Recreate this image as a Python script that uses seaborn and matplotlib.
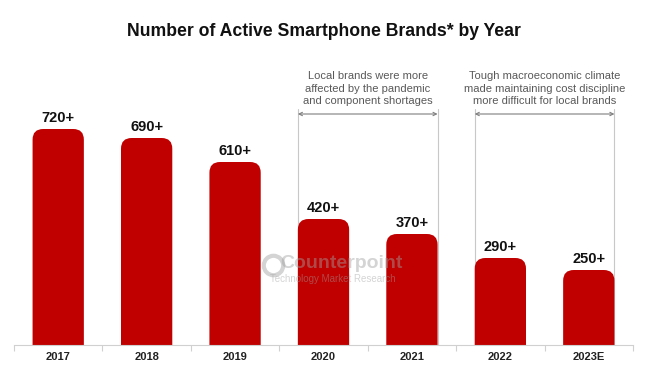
import pandas as pd
import matplotlib.pyplot as plt
import seaborn as sns
from matplotlib.patches import FancyBboxPatch

years = ['2017', '2018', '2019', '2020', '2021', '2022', '2023E']
brands = [720, 690, 610, 420, 370, 290, 250]
labels = ['720+', '690+', '610+', '420+', '370+', '290+', '250+']
note_1 = 'Local brands were more\naffected by the pandemic\nand component shortages'
note_2 = 'Tough macroeconomic climate\nmade maintaining cost discipline\nmore difficult for local brands'

data = pd.DataFrame({'Year': years, 'Brands': brands})

sns.set_style('white')
plt.rcParams['font.family'] = ['Liberation Sans', 'DejaVu Sans']

fig = plt.figure(figsize=(6.6, 3.89), dpi=100)
ax = fig.add_axes([14 / 660, 44 / 389, 619 / 660, 305 / 389])

bw = 0.58
sns.barplot(x='Year', y='Brands', data=data, color='#C00000', width=bw, ax=ax)

# swap the plain bars for ones with rounded tops
for p in list(ax.patches):
    x0, w, h = p.get_x(), p.get_width(), p.get_height()
    p.remove()
    ax.add_patch(FancyBboxPatch((x0, -50), w, h + 50,
                                boxstyle='round,pad=0,rounding_size=0.12',
                                mutation_aspect=295, fc='#C00000', ec='none',
                                zorder=2))

ax.set_xlim(-0.5, 6.5)
ax.set_ylim(0, 305 / 0.3)

for i, (v, lab) in enumerate(zip(brands, labels)):
    ax.annotate(lab, (i, v), xytext=(0, 3), textcoords='offset points',
                ha='center', va='bottom', fontsize=10.5, fontweight='bold',
                color='#111111')

# brackets for the two notes
for left, right, note in [(3, 4, note_1), (5, 6, note_2)]:
    xl, xr = left - bw / 2, right + bw / 2
    for xv in (xl, xr):
        ax.plot([xv, xv], [0, 788], color='#c8c8c8', lw=0.8, zorder=1)
    ax.annotate('', xy=(xl, 770), xytext=(xr, 770),
                arrowprops=dict(arrowstyle='<->', color='#7f7f7f', lw=0.8,
                                shrinkA=0, shrinkB=0, mutation_scale=6))
    ax.text((xl + xr) / 2, 855, note, ha='center', va='center', fontsize=8,
            color='#595959', linespacing=1.3)

# faint watermark
ax.plot([2.43], [268], marker='o', ms=14, mfc='none', mec='#a0a0a0', mew=3,
        alpha=0.45, zorder=3)
ax.text(3.2, 273, 'Counterpoint', ha='center', va='center', fontsize=14,
        fontweight='bold', color='#a0a0a0', alpha=0.45, zorder=3)
ax.text(3.1, 220, 'Technology Market Research', ha='center', va='center',
        fontsize=7, color='#a0a0a0', alpha=0.45, zorder=3)

ax.set_xlabel('')
ax.set_ylabel('')
ax.set_yticks([])
ax.set_xticks(range(len(years)))
ax.set_xticklabels(years, fontsize=8, fontweight='bold', color='#222222')
ax.set_xticks([i - 0.5 for i in range(len(years) + 1)], minor=True)
ax.tick_params(axis='x', which='major', length=0, pad=5)
ax.tick_params(axis='x', which='minor', length=4, color='#d0d0d0', width=0.8,
               bottom=True)
sns.despine(ax=ax, left=True)
ax.spines['bottom'].set_color('#d0d0d0')
ax.spines['bottom'].set_linewidth(0.8)

fig.text(0.491, 1 - 32 / 389, 'Number of Active Smartphone Brands* by Year',
         ha='center', va='center', fontsize=12.7, fontweight='bold',
         color='#111111')

plt.savefig('out.png', dpi=100)
